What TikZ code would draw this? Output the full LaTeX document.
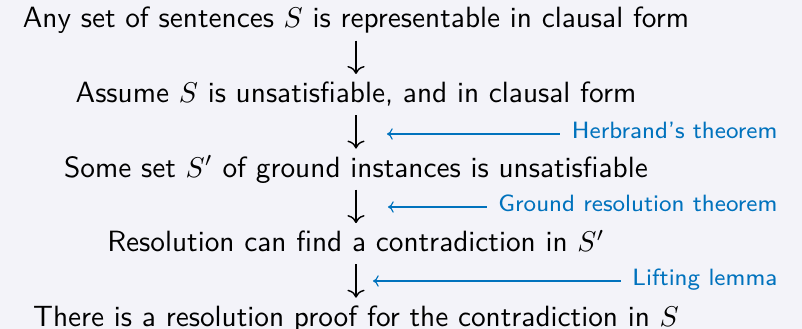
\documentclass[tikz,border=0pt]{standalone}
\usepackage{amsmath,amssymb}
\usepackage{xcolor}
\usepackage{tikz}
\usetikzlibrary{arrows.meta, positioning}

\definecolor{slidebg}{RGB}{243,243,249}
\definecolor{noteblue}{RGB}{0,114,189}

\begin{document}
\begin{tikzpicture}[
    x=0.35pt, y=-0.35pt,
    node distance=11.7pt,
    stage/.style={inner sep=0pt, text height=9.8pt, text depth=4.2pt, font=\sffamily\fontsize{10.25}{12}\selectfont},
    note/.style={inner sep=0pt, text height=6.1pt, text depth=2.7pt, text=noteblue, font=\sffamily\fontsize{8.25}{10}\selectfont},
    down/.style={line width=0.5pt, -{To[length=2.8pt, width=6pt]}},
    hint/.style={noteblue, line width=0.4pt, {To[length=2pt, width=4pt]}-, shorten >=3.9pt}
]

% background
\fill[slidebg] (0,0) rectangle (802,329);
\useasboundingbox (0,0) rectangle (802,329);

% Schritt 1
\node[stage, anchor=base] (any) at (356,28) {Any set of sentences $S$ is representable in clausal form};

% Schritt 2
\node[stage, below=of any] (assume) {Assume $S$ is unsatisfiable, and in clausal form};

% Schritt 3
\node[stage, below=of assume] (ground) {Some set $S'$ of ground instances is unsatisfiable};

% Schritt 4
\node[stage, below=of ground] (resol) {Resolution can find a contradiction in $S'$};

% Schritt 5
\node[stage, below=of resol] (proof) {There is a resolution proof for the contradiction in $S$};

% Pfeile
\draw[down] (any) -- (assume);
\draw[down] (assume) -- (ground);
\draw[down] (ground) -- (resol);
\draw[down] (resol) -- (proof);

% Begruendungen
\node[note, anchor=east] (herbrand) at (778,134) {Herbrand's theorem};
\node[note, anchor=east] (grth) at (778,207) {Ground resolution theorem};
\node[note, anchor=east] (lift) at (778,281) {Lifting lemma};
\coordinate (herbrand tip) at (387,134);
\coordinate (grth tip) at (388,207);
\coordinate (lift tip) at (373,281);
\draw[hint] (herbrand tip) -- (herbrand);
\draw[hint] (grth tip) -- (grth);
\draw[hint] (lift tip) -- (lift);

\end{tikzpicture}
\end{document}
